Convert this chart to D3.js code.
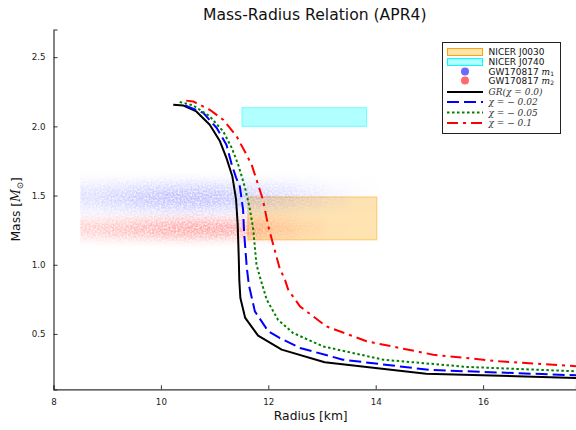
<!DOCTYPE html>
<html>
<head>
<meta charset="utf-8">
<script src="https://cdn.jsdelivr.net/npm/d3@7"></script>
<style>
  body { margin: 0; background: #fff; }
  svg { display: block; font-family: "DejaVu Sans", sans-serif; }
</style>
</head>
<body>
<div id="chart"></div>
<script>
// Mass-radius curves [radius km, mass Msun]
const grCurve = [[10.23,2.157],[10.42,2.15],[10.66,2.108],[10.91,2.012],[11.10,1.892],[11.22,1.772],[11.33,1.64],
  [11.40,1.47],[11.43,1.29],[11.45,1.05],[11.46,0.89],[11.48,0.76],[11.57,0.616],[11.81,0.488],[12.25,0.387],
  [13.05,0.295],[14.94,0.213],[17.8,0.181]];
const chi002 = [[10.45,2.152],[10.79,2.097],[11.04,1.988],[11.22,1.868],[11.32,1.723],[11.40,1.63],[11.47,1.566],
  [11.53,1.398],[11.55,1.23],[11.60,0.977],[11.64,0.85],[11.75,0.663],[12.0,0.519],[12.21,0.471],[12.59,0.399],
  [13.39,0.314],[15.0,0.24],[17.8,0.2]];
const chi005 = [[10.35,2.176],[10.6,2.152],[10.91,2.072],[11.16,1.964],[11.32,1.844],[11.44,1.723],[11.56,1.566],
  [11.66,1.398],[11.72,1.254],[11.78,1.0],[11.86,0.89],[11.97,0.748],[12.18,0.603],[12.46,0.507],[13.02,0.41],
  [14.14,0.314],[15.69,0.262],[17.8,0.229]];
const chi01 = [[10.47,2.186],[10.6,2.18],[10.91,2.12],[11.16,2.048],[11.41,1.928],[11.56,1.82],[11.69,1.723],
  [11.81,1.58],[11.90,1.47],[12.0,1.277],[12.21,0.977],[12.31,0.892],[12.37,0.82],[12.59,0.699],[13.08,0.555],
  [13.83,0.447],[15.07,0.35],[16.31,0.302],[17.8,0.265]];

// NICER boxes: [rMin, rMax, mMin, mMax]
const nicerJ0030 = [11.62, 14.02, 1.18, 1.49];
const nicerJ0740 = [11.51, 13.83, 2.0, 2.135];

// GW170817 sample density (rows of mass, columns of radius)
const gwRadius = [8.75, 9.25, 9.75, 10.25, 10.75, 11.25, 11.75, 12.25, 12.75, 13.25, 13.75];
const gwM1Mass = [1.61, 1.57, 1.53, 1.49, 1.45, 1.41, 1.37];
const gwM1Density = [
  [0.15,0.2,0.2,0.25,0.25,0.2,0.2,0.15,0.1,0.05,0.02],
  [0.3,0.35,0.45,0.5,0.5,0.45,0.35,0.3,0.2,0.1,0.03],
  [0.45,0.55,0.7,0.75,0.75,0.7,0.55,0.45,0.3,0.15,0.05],
  [0.5,0.65,0.85,0.95,0.95,0.85,0.65,0.5,0.35,0.2,0.05],
  [0.45,0.6,0.75,0.85,0.85,0.75,0.6,0.45,0.3,0.15,0.05],
  [0.3,0.4,0.5,0.55,0.55,0.5,0.4,0.3,0.2,0.1,0.03],
  [0.12,0.15,0.2,0.25,0.25,0.2,0.15,0.1,0.05,0.03,0]
];
const gwM2Mass = [1.34, 1.30, 1.26, 1.22, 1.18];
const gwM2Density = [
  [0.2,0.25,0.3,0.35,0.35,0.3,0.25,0.15,0.05,0,0],
  [0.45,0.55,0.65,0.75,0.8,0.75,0.55,0.3,0.15,0.03,0],
  [0.55,0.65,0.8,0.9,1.0,0.95,0.65,0.4,0.2,0.05,0],
  [0.45,0.55,0.65,0.75,0.8,0.75,0.55,0.3,0.15,0.03,0],
  [0.15,0.2,0.25,0.3,0.3,0.25,0.2,0.1,0.05,0,0]
];

const xTicks = [8, 10, 12, 14, 16];
const yTicks = [0.5, 1.0, 1.5, 2.0, 2.5];

const series = [
  { name: 'GR', data: grCurve, color: '#000000', dash: null },
  { name: 'chi002', data: chi002, color: '#0000ff', dash: '12,5' },
  { name: 'chi005', data: chi005, color: '#008000', dash: '2.5,2.5' },
  { name: 'chi01', data: chi01, color: '#ff0000', dash: '11,5,3,5' }
];

const width = 576, height = 430;
const margin = { top: 29.5, right: 0, bottom: 40.7, left: 53.5 };

const svg = d3.select('#chart').append('svg')
  .attr('width', width)
  .attr('height', height);

const xScale = d3.scaleLinear().domain([8, 17.73]).range([margin.left, width - margin.right]);
const yScale = d3.scaleLinear().domain([0.1, 2.7]).range([height - margin.bottom, margin.top]);

const defs = svg.append('defs');
defs.append('clipPath').attr('id', 'plot-clip')
  .append('rect')
  .attr('x', margin.left).attr('y', margin.top)
  .attr('width', width - margin.left - margin.right)
  .attr('height', height - margin.top - margin.bottom);

// left edge of the samples is sharp in the picture
const gwLeft = gwRadius[0] - (gwRadius[1] - gwRadius[0]) / 2;
defs.append('clipPath').attr('id', 'gw-clip')
  .append('rect')
  .attr('x', xScale(gwLeft)).attr('y', margin.top)
  .attr('width', width - xScale(gwLeft))
  .attr('height', height - margin.top - margin.bottom);

// blur + speckle so the sample clouds look like scattered points
const cloudFilter = defs.append('filter').attr('id', 'cloud')
  .attr('x', '-20%').attr('y', '-40%').attr('width', '140%').attr('height', '180%');
cloudFilter.append('feGaussianBlur').attr('in', 'SourceGraphic').attr('stdDeviation', '7 3').attr('result', 'blur');
cloudFilter.append('feTurbulence').attr('type', 'fractalNoise').attr('baseFrequency', 0.55)
  .attr('numOctaves', 2).attr('seed', 7).attr('result', 'noise');
cloudFilter.append('feColorMatrix').attr('in', 'noise').attr('type', 'matrix')
  .attr('values', '0 0 0 0 0  0 0 0 0 0  0 0 0 0 0  0 0 0 1.7 -0.15').attr('result', 'speck');
cloudFilter.append('feComposite').attr('in', 'blur').attr('in2', 'speck').attr('operator', 'in');

const plot = svg.append('g').attr('clip-path', 'url(#plot-clip)');

// NICER boxes
function nicerBox(box, color) {
  plot.append('rect')
    .attr('x', xScale(box[0]))
    .attr('y', yScale(box[3]))
    .attr('width', xScale(box[1]) - xScale(box[0]))
    .attr('height', yScale(box[2]) - yScale(box[3]))
    .attr('fill', color).attr('fill-opacity', 0.3)
    .attr('stroke', color).attr('stroke-opacity', 0.5).attr('stroke-width', 1);
}
nicerBox(nicerJ0030, '#ffa500');
nicerBox(nicerJ0740, '#00ffff');

// GW170817 clouds
function cloud(masses, density, color, alpha) {
  const dr = gwRadius[1] - gwRadius[0];
  const dm = Math.abs(masses[1] - masses[0]);
  const g = plot.append('g').attr('clip-path', 'url(#gw-clip)')
    .append('g').attr('filter', 'url(#cloud)');
  masses.forEach((m, i) => {
    gwRadius.forEach((r, j) => {
      const d = density[i][j];
      if (!d) return;
      const r0 = j === 0 ? r - dr : r - dr / 2;
      g.append('rect')
        .attr('x', xScale(r0))
        .attr('y', yScale(m + dm / 2))
        .attr('width', xScale(r + dr / 2) - xScale(r0) + 0.5)
        .attr('height', yScale(m - dm / 2) - yScale(m + dm / 2) + 0.5)
        .attr('fill', color)
        .attr('fill-opacity', d * alpha);
    });
  });
}
cloud(gwM1Mass, gwM1Density, '#0000ff', 0.26);
cloud(gwM2Mass, gwM2Density, '#ff0000', 0.36);

// curves
const line = d3.line()
  .x(d => xScale(d[0]))
  .y(d => yScale(d[1]));

plot.selectAll('.curve')
  .data(series)
  .enter()
  .append('path')
  .attr('class', 'curve')
  .attr('d', d => line(d.data))
  .attr('fill', 'none')
  .attr('stroke', d => d.color)
  .attr('stroke-width', 2)
  .attr('stroke-dasharray', d => d.dash)
  .attr('stroke-linejoin', 'round');

// axes
const xAxis = d3.axisBottom(xScale).tickValues(xTicks).tickFormat(d3.format('d')).tickSize(-4).tickPadding(8);
const yAxis = d3.axisLeft(yScale).tickValues(yTicks).tickFormat(d3.format('.1f')).tickSize(-4).tickPadding(8);

const gx = svg.append('g')
  .attr('transform', `translate(0,${height - margin.bottom})`)
  .call(xAxis);
const gy = svg.append('g')
  .attr('transform', `translate(${margin.left},0)`)
  .call(yAxis);

[gx, gy].forEach(g => {
  g.select('.domain').attr('stroke', '#333').attr('stroke-width', 1.2);
  g.selectAll('.tick line').attr('stroke', '#333');
  g.selectAll('.tick text').attr('fill', '#222').style('font-size', '8.7px').style('font-family', '"DejaVu Sans"');
});
gx.selectAll('.tick text').attr('dy', '0.9em');

// title and labels
const plotCenter = (margin.left + width - margin.right) / 2;
svg.append('text')
  .attr('x', plotCenter).attr('y', 19.5)
  .attr('text-anchor', 'middle')
  .style('font-size', '15.6px')
  .attr('fill', '#111')
  .text('Mass-Radius Relation (APR4)');

svg.append('text')
  .attr('x', plotCenter - 4).attr('y', 420)
  .attr('text-anchor', 'middle')
  .style('font-size', '12.3px')
  .attr('fill', '#111')
  .text('Radius [km]');

const yLabel = svg.append('text')
  .attr('transform', `translate(20,${yScale(1.4)}) rotate(-90)`)
  .attr('text-anchor', 'middle')
  .style('font-size', '12.3px')
  .attr('fill', '#111');
yLabel.append('tspan').text('Mass [');
yLabel.append('tspan').style('font-family', '"DejaVu Serif"').style('font-style', 'italic').text('M');
yLabel.append('tspan').attr('dy', 3).style('font-size', '8.5px').text('⊙');
yLabel.append('tspan').attr('dy', -3).text(']');

// legend
const legendItems = [
  { type: 'box', color: '#ffa500', label: 'NICER J0030', y: 52 },
  { type: 'box', color: '#00ffff', label: 'NICER J0740', y: 62 },
  { type: 'dot', color: '#6b6bff', label: 'GW170817 ', sub: 'm', idx: '1', y: 71.5 },
  { type: 'dot', color: '#ff6b6b', label: 'GW170817 ', sub: 'm', idx: '2', y: 80.5 },
  { type: 'line', series: series[0], math: 'GR(χ = 0.0)', y: 92 },
  { type: 'line', series: series[1], math: 'χ = − 0.02', y: 102 },
  { type: 'line', series: series[2], math: 'χ = − 0.05', y: 112.5 },
  { type: 'line', series: series[3], math: 'χ = − 0.1', y: 123 }
];

const legend = svg.append('g');
legend.append('rect')
  .attr('x', 442.5).attr('y', 42.5).attr('width', 118).attr('height', 91)
  .attr('fill', '#fff').attr('stroke', '#222').attr('stroke-width', 1);

legendItems.forEach(it => {
  const g = legend.append('g');
  if (it.type === 'box') {
    g.append('rect').attr('x', 447.5).attr('y', it.y - 3.5).attr('width', 35).attr('height', 7)
      .attr('fill', it.color).attr('fill-opacity', 0.3).attr('stroke', it.color).attr('stroke-width', 1);
  } else if (it.type === 'dot') {
    g.append('circle').attr('cx', 465).attr('cy', it.y).attr('r', 4).attr('fill', it.color);
  } else {
    g.append('line').attr('x1', 447).attr('x2', 483).attr('y1', it.y).attr('y2', it.y)
      .attr('stroke', it.series.color).attr('stroke-width', 2)
      .attr('stroke-dasharray', it.series.dash);
  }
  const t = g.append('text').attr('x', 488.5).attr('y', it.y + 3.3)
    .style('font-size', '9px').attr('fill', '#111');
  if (it.math) {
    t.style('font-family', '"DejaVu Serif"').style('font-style', 'italic').attr('fill', '#333').text(it.math);
  } else {
    t.append('tspan').text(it.label);
    if (it.sub) {
      t.append('tspan').style('font-family', '"DejaVu Serif"').style('font-style', 'italic').text(it.sub);
      t.append('tspan').attr('dy', 1.5).style('font-size', '6px').text(it.idx);
    }
  }
});
</script>
</body>
</html>
